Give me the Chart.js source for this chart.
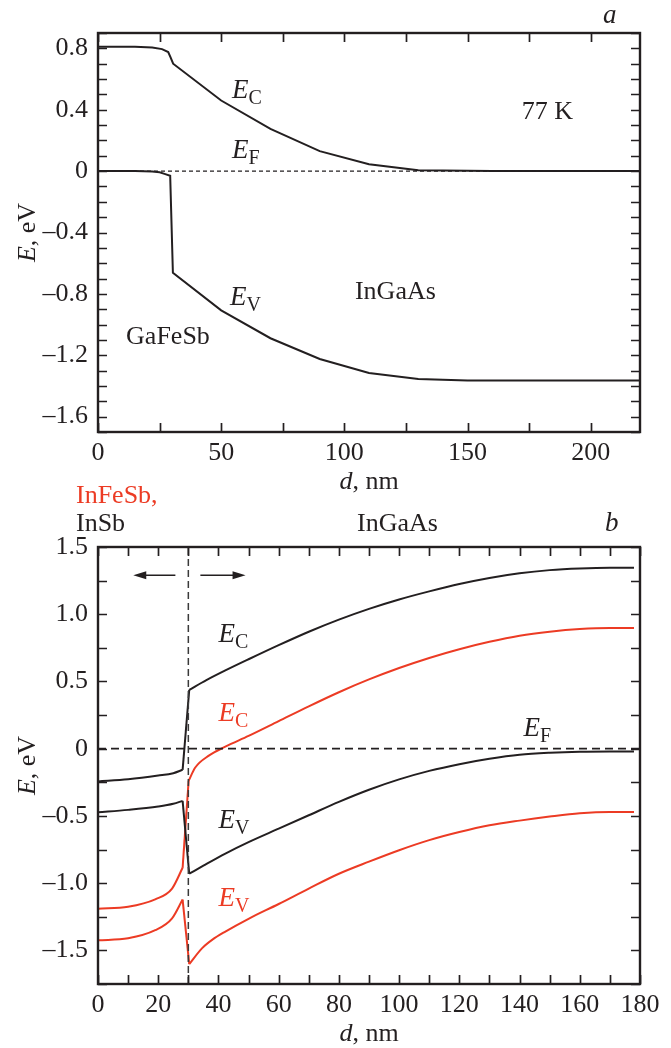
<!DOCTYPE html>
<html>
<head>
<meta charset="utf-8">
<script src="https://cdn.jsdelivr.net/npm/chart.js@4.4.0/dist/chart.umd.min.js"></script>
<style>
  body { margin: 0; background: #fff; }
  #wrap { position: relative; width: 671px; height: 1048px; }
  canvas { position: absolute; left: 0; }
</style>
</head>
<body>
<div id="wrap">
  <canvas id="chartA" width="671" height="494" style="top:0px"></canvas>
  <canvas id="chartB" width="671" height="562" style="top:486px"></canvas>
</div>
<script>
// ---- panel a: GaFeSb / InGaAs, 77 K ----
var ecA_d = [0, 15, 22, 26, 28.5, 29.5, 30.5, 50, 70, 90, 110, 130, 160, 190, 220];
var ecA_E = [0.81, 0.81, 0.805, 0.795, 0.776, 0.74, 0.70, 0.46, 0.275, 0.13, 0.045, 0.005, 0, 0, 0];
var evA_d = [0, 15, 22, 25, 27, 29.3, 30.4, 50, 70, 90, 110, 130, 150, 220];
var evA_E = [0, 0, -0.002, -0.008, -0.018, -0.03, -0.662, -0.907, -1.089, -1.224, -1.316, -1.355, -1.364, -1.364];
var efA_d = [0, 220];
var efA_E = [0, 0];

// ---- panel b: InFeSb (red) and InSb (black) on InGaAs ----
var ecB_d = [0, 10, 20, 25, 28.1, 30.3, 36, 42.3, 50, 60, 70, 80, 90, 100, 110, 120, 130, 140, 150, 160, 170, 178];
var ecB_E = [-0.244, -0.228, -0.2, -0.182, -0.157, 0.438, 0.51, 0.582, 0.665, 0.77, 0.87, 0.96, 1.04, 1.11, 1.17, 1.225, 1.27, 1.305, 1.328, 1.34, 1.345, 1.345];
var evB_d = [0, 10, 20, 25, 28.1, 30.3, 35, 42.3, 50, 60, 70, 80, 90, 100, 110, 120, 130, 140, 150, 160, 170, 178];
var evB_E = [-0.473, -0.455, -0.43, -0.41, -0.388, -0.93, -0.87, -0.78, -0.695, -0.595, -0.495, -0.395, -0.305, -0.228, -0.165, -0.115, -0.075, -0.045, -0.03, -0.022, -0.02, -0.02];
var ecRed_d = [0, 10, 19, 24.6, 28.1, 30.1, 32.3, 36.8, 42.3, 50, 60, 70, 80, 90, 100, 110, 120, 130, 140, 150, 160, 170, 178];
var ecRed_E = [-1.19, -1.175, -1.12, -1.04, -0.886, -0.239, -0.14, -0.052, 0.015, 0.095, 0.205, 0.315, 0.42, 0.515, 0.6, 0.675, 0.74, 0.795, 0.84, 0.87, 0.89, 0.898, 0.898];
var evRed_d = [0, 10, 19, 24.6, 28.1, 30.3, 34.6, 38, 42.3, 50, 60, 70, 80, 90, 100, 110, 120, 130, 140, 150, 160, 170, 178];
var evRed_E = [-1.425, -1.41, -1.35, -1.262, -1.122, -1.602, -1.483, -1.42, -1.36, -1.265, -1.155, -1.04, -0.93, -0.84, -0.755, -0.68, -0.62, -0.57, -0.535, -0.505, -0.48, -0.47, -0.47];
var efB_d = [0, 180];
var efB_E = [0, 0];
var interfaceB = 30; // nm, heterointerface

var FONT = '"Liberation Serif", "Times New Roman", serif';
var INK = '#231f20';
var RED = '#ec3b24';

function pts(xs, ys) {
    return xs.map(function (x, i) { return { x: x, y: ys[i] }; });
}

// band edge: smooth on each side of the interface, straight across the jump
function bandSets(xs, ys, color) {
    var k = 0;
    while (xs[k + 1] < interfaceB - 1) k++;
    var common = { borderColor: color, borderWidth: 2 };
    return [
        Object.assign({ data: pts(xs.slice(0, k + 1), ys.slice(0, k + 1)), cubicInterpolationMode: 'monotone' }, common),
        Object.assign({ data: pts(xs.slice(k, k + 2), ys.slice(k, k + 2)), tension: 0 }, common),
        Object.assign({ data: pts(xs.slice(k + 1), ys.slice(k + 1)), cubicInterpolationMode: 'monotone' }, common)
    ];
}

function fmtE(v) {
    if (Math.abs(v) < 1e-9) return '0';
    return v.toFixed(1).replace('-', '\u2013');
}

// draws a run of text pieces with different fonts, left/baseline anchored
function drawRich(ctx, x, y, parts) {
    var cx = x;
    parts.forEach(function (p) {
        ctx.font = p.font;
        ctx.fillStyle = p.color || INK;
        ctx.fillText(p.text, cx, y + (p.dy || 0));
        cx += ctx.measureText(p.text).width;
    });
}
function richWidth(ctx, parts) {
    var w = 0;
    parts.forEach(function (p) { ctx.font = p.font; w += ctx.measureText(p.text).width; });
    return w;
}
function sym(sub, color) {
    return [
        { text: 'E', font: 'italic 27px ' + FONT, color: color },
        { text: sub, font: '20px ' + FONT, color: color, dy: 6 }
    ];
}
function plain(t, color) {
    return [{ text: t, font: '26px ' + FONT, color: color }];
}

// frame + inward ticks on all four sides, axis titles
var frameTicks = {
    id: 'frameTicks',
    afterDraw: function (chart) {
        var ctx = chart.ctx, a = chart.chartArea, sx = chart.scales.x, sy = chart.scales.y;
        ctx.save();
        ctx.strokeStyle = INK;
        ctx.lineWidth = 1.7;
        ctx.beginPath();
        sx.ticks.forEach(function (t) {
            var p = Math.round(sx.getPixelForValue(t.value)) + 0.5;
            ctx.moveTo(p, a.bottom); ctx.lineTo(p, a.bottom - 9);
            ctx.moveTo(p, a.top); ctx.lineTo(p, a.top + 9);
        });
        sy.ticks.forEach(function (t) {
            var p = Math.round(sy.getPixelForValue(t.value)) + 0.5;
            ctx.moveTo(a.left, p); ctx.lineTo(a.left + 9, p);
            ctx.moveTo(a.right, p); ctx.lineTo(a.right - 9, p);
        });
        ctx.stroke();
        ctx.lineWidth = 2.4;
        ctx.strokeRect(a.left, a.top, a.right - a.left, a.bottom - a.top);

        ctx.textBaseline = 'alphabetic';
        // x title
        var xt = [{ text: 'd', font: 'italic 26px ' + FONT }, { text: ', nm', font: '26px ' + FONT }];
        drawRich(ctx, (a.left + a.right) / 2 - richWidth(ctx, xt) / 2, a.bottom + 57, xt);
        // y title
        var yt = [{ text: 'E', font: 'italic 26px ' + FONT }, { text: ', eV', font: '26px ' + FONT }];
        ctx.translate(35, (a.top + a.bottom) / 2);
        ctx.rotate(-Math.PI / 2);
        drawRich(ctx, -richWidth(ctx, yt) / 2, 0, yt);
        ctx.restore();
    }
};

function baseOptions(xMin, xMax, xStep, xLabelEvery, yMin, yMax, yStep, yLabelEvery, padTop, xAxisH) {
    return {
        responsive: false,
        animation: false,
        layout: { padding: { top: padTop, right: 31, left: 0, bottom: 0 } },
        plugins: { legend: { display: false }, tooltip: { enabled: false } },
        elements: { point: { radius: 0 }, line: { borderWidth: 2 } },
        scales: {
            x: {
                type: 'linear', min: xMin, max: xMax,
                grid: { display: false, drawTicks: false }, border: { display: false },
                ticks: {
                    stepSize: xStep, includeBounds: false, autoSkip: false, maxRotation: 0,
                    padding: 6, color: INK, font: { family: FONT, size: 26 },
                    callback: function (v) { return Math.round(v) % xLabelEvery === 0 ? String(v) : ''; }
                },
                afterFit: function (s) { s.height = xAxisH; }
            },
            y: {
                type: 'linear', min: yMin, max: yMax,
                grid: { display: false, drawTicks: false }, border: { display: false },
                ticks: {
                    stepSize: yStep, includeBounds: false, autoSkip: false,
                    padding: 10, color: INK, font: { family: FONT, size: 26 },
                    callback: function (v) { return Math.round(v / yStep) % yLabelEvery === 0 ? fmtE(v) : ''; }
                },
                afterFit: function (s) { s.width = 98; }
            }
        }
    };
}

// ---------- chart a ----------
var labelsA = {
    id: 'labelsA',
    afterDraw: function (chart) {
        var ctx = chart.ctx, a = chart.chartArea, sx = chart.scales.x, sy = chart.scales.y;
        function at(d, e, parts) { drawRich(ctx, sx.getPixelForValue(d), sy.getPixelForValue(e), parts); }
        ctx.save();
        ctx.textBaseline = 'alphabetic';
        at(54.4, 0.479, sym('C'));
        at(54.4, 0.085, sym('F'));
        at(53.6, -0.872, sym('V'));
        at(172, 0.34, plain('77 K'));
        at(11.4, -1.128, plain('GaFeSb'));
        at(104.3, -0.833, plain('InGaAs'));
        drawRich(ctx, a.right - 37, a.top - 10, [{ text: 'a', font: 'italic 27px ' + FONT }]);
        ctx.restore();
    }
};

new Chart(document.getElementById('chartA'), {
    type: 'line',
    data: {
        datasets: [
            { data: pts(efA_d, efA_E), borderColor: INK, borderWidth: 1.2, borderDash: [4, 3] },
            { data: pts(ecA_d, ecA_E), borderColor: INK, tension: 0 },
            { data: pts(evA_d, evA_E), borderColor: INK, tension: 0 }
        ]
    },
    options: baseOptions(0, 220, 25, 50, -1.7, 0.9, 0.1, 4, 33, 62),
    plugins: [frameTicks, labelsA]
});

// ---------- chart b ----------
function arrow(ctx, x1, x2, y) {
    var dir = x2 > x1 ? 1 : -1;
    ctx.beginPath();
    ctx.moveTo(x1, y); ctx.lineTo(x2 - dir * 10, y);
    ctx.stroke();
    ctx.beginPath();
    ctx.moveTo(x2, y);
    ctx.lineTo(x2 - dir * 13, y - 4);
    ctx.lineTo(x2 - dir * 13, y + 4);
    ctx.closePath();
    ctx.fill();
}

var labelsB = {
    id: 'labelsB',
    afterDraw: function (chart) {
        var ctx = chart.ctx, a = chart.chartArea, sx = chart.scales.x, sy = chart.scales.y;
        function at(d, e, parts) { drawRich(ctx, sx.getPixelForValue(d), sy.getPixelForValue(e), parts); }
        ctx.save();
        ctx.textBaseline = 'alphabetic';
        at(40, 0.791, sym('C'));
        at(40, 0.209, sym('C', RED));
        at(141.3, 0.097, sym('F'));
        at(40, -0.59, sym('V'));
        at(40, -1.172, sym('V', RED));
        drawRich(ctx, a.left - 22, a.top - 44, plain('InFeSb,', RED));
        drawRich(ctx, a.left - 22, a.top - 16, plain('InSb'));
        drawRich(ctx, a.left + 259, a.top - 16, plain('InGaAs'));
        drawRich(ctx, a.right - 35, a.top - 16, [{ text: 'b', font: 'italic 27px ' + FONT }]);
        // arrows either side of the interface
        ctx.strokeStyle = INK; ctx.fillStyle = INK; ctx.lineWidth = 1.6;
        var ya = sy.getPixelForValue(1.29);
        arrow(ctx, sx.getPixelForValue(25.7), sx.getPixelForValue(11.7), ya);
        arrow(ctx, sx.getPixelForValue(34), sx.getPixelForValue(49), ya);
        ctx.restore();
    }
};

var yMinB = -1.75, yMaxB = 1.5;
new Chart(document.getElementById('chartB'), {
    type: 'line',
    data: {
        datasets: [
            { data: pts(efB_d, efB_E), borderColor: INK, borderWidth: 1.8, borderDash: [8, 5] },
            { data: pts([interfaceB, interfaceB], [yMinB, yMaxB]), borderColor: '#3a3a3a', borderWidth: 1.5, borderDash: [7, 4] }
        ].concat(
            bandSets(ecB_d, ecB_E, INK),
            bandSets(evB_d, evB_E, INK),
            bandSets(ecRed_d, ecRed_E, RED),
            bandSets(evRed_d, evRed_E, RED)
        )
    },
    options: baseOptions(0, 180, 10, 20, yMinB, yMaxB, 0.25, 2, 61, 64),
    plugins: [frameTicks, labelsB]
});
</script>
</body>
</html>
